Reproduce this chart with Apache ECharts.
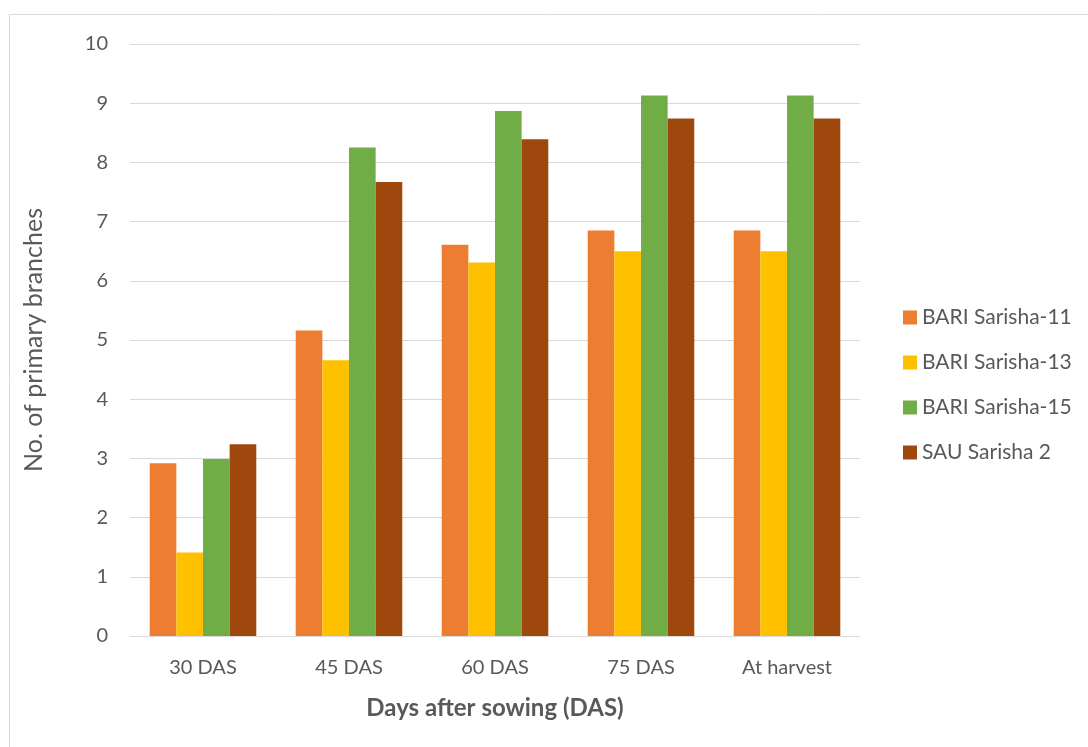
<!DOCTYPE html>
<html>
<head>
<meta charset="utf-8">
<script src="https://cdn.jsdelivr.net/npm/echarts@6/dist/echarts.min.js"></script>
<style>
  html, body { margin: 0; padding: 0; background: #ffffff; }
  #chart { width: 1088px; height: 747px; }
</style>
</head>
<body>
<div id="chart"></div>
<script>
// Sampling stages along the x axis
const categories = ['30 DAS', '45 DAS', '60 DAS', '75 DAS', 'At harvest'];

// Number of primary branches per variety
const bariSarisha11 = [2.92, 5.16, 6.61, 6.85, 6.85];
const bariSarisha13 = [1.41, 4.66, 6.31, 6.50, 6.50];
const bariSarisha15 = [2.99, 8.25, 8.87, 9.13, 9.13];
const sauSarisha2   = [3.24, 7.67, 8.39, 8.74, 8.74];

const seriesNames = ['BARI Sarisha-11', 'BARI Sarisha-13', 'BARI Sarisha-15', 'SAU Sarisha 2'];
const seriesData = [bariSarisha11, bariSarisha13, bariSarisha15, sauSarisha2];
const colors = ['#ED7D31', '#FFC000', '#70AD47', '#9E480E'];

const FONT = 'Lato, "Open Sans", sans-serif';
const TEXT = '#595959';

const chart = echarts.init(document.getElementById('chart'), null, { renderer: 'canvas' });

chart.setOption({
  animation: false,
  backgroundColor: '#ffffff',
  color: colors,
  graphic: [{
    type: 'rect',
    shape: { x: 9.5, y: 14.5, width: 1100, height: 760 },
    style: { fill: 'none', stroke: '#d9d9d9', lineWidth: 1 },
    silent: true
  }],
  grid: { left: 130, right: 228, top: 44, bottom: 111, containLabel: false },
  legend: {
    orient: 'vertical',
    left: 903,
    top: 307,
    padding: 0,
    itemWidth: 14,
    itemHeight: 14,
    itemGap: 24,
    icon: 'rect',
    textStyle: { color: TEXT, fontSize: 21, fontFamily: FONT, lineHeight: 21 },
    data: seriesNames
  },
  xAxis: {
    type: 'category',
    data: categories,
    axisLine: { lineStyle: { color: '#d9d9d9', width: 1 } },
    axisTick: { show: false },
    axisLabel: { color: TEXT, fontSize: 20, fontFamily: FONT, margin: 22 },
    name: 'Days after sowing (DAS)',
    nameLocation: 'middle',
    nameGap: 60,
    nameTextStyle: { color: TEXT, fontSize: 24, fontWeight: 'bold', fontFamily: FONT }
  },
  yAxis: {
    type: 'value',
    min: 0,
    max: 10,
    interval: 1,
    axisLine: { show: false },
    axisTick: { show: false },
    axisLabel: { color: TEXT, fontSize: 20, fontFamily: FONT, margin: 22 },
    splitLine: { lineStyle: { color: '#d9d9d9', width: 1 } },
    name: 'No. of primary branches',
    nameLocation: 'middle',
    nameGap: 84,
    nameRotate: 90,
    nameTextStyle: { color: TEXT, fontSize: 25, fontFamily: FONT }
  },
  series: seriesNames.map((name, i) => ({
    name: name,
    type: 'bar',
    data: seriesData[i],
    barGap: '0%',
    barCategoryGap: '27%',
    itemStyle: { color: colors[i] }
  }))
});
</script>
</body>
</html>
